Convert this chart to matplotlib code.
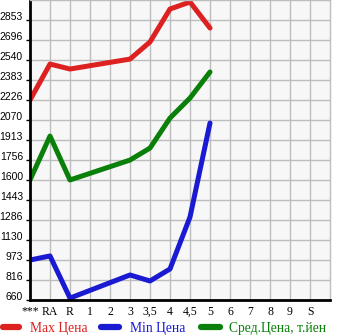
import matplotlib
matplotlib.use("Agg")
import matplotlib.pyplot as plt
import matplotlib.transforms as mtransforms
from matplotlib.lines import Line2D

# categories along the x axis
CATEGORIES = ["***", "RA", "R", "1", "2", "3", "3,5", "4", "4,5", "5",
              "6", "7", "8", "9", "S"]

# y tick labels (thousand yen)
Y_TICKS = [660, 816, 973, 1130, 1286, 1443, 1600, 1756, 1913, 2070,
           2226, 2383, 2540, 2696, 2853]

# series, only the categories that have data
SERIES_CATS = ["***", "RA", "R", "3", "3,5", "4", "4,5", "5"]
MAX_PRICE = [2226, 2508, 2469, 2547, 2681, 2939, 2994, 2790]
MIN_PRICE = [973, 1005, 675, 856, 809, 903, 1310, 2046]
AVG_PRICE = [1600, 1944, 1600, 1756, 1850, 2085, 2242, 2446]

LABELS = ["Max Цена", "Min Цена", "Сред.Цена, т.йен"]

RED = "#dd2020"
BLUE = "#1a1ad2"
GREEN = "#0a800a"
GRID = "#bdbdbd"

W, H = 345, 335


def main():
    fig = plt.figure(figsize=(W / 100, H / 100), dpi=100)
    ax = fig.add_axes([30 / W, 35 / H, 300 / W, 300 / H])
    ax.set_facecolor("#f7f7f7")

    xs = [CATEGORIES.index(c) for c in SERIES_CATS]
    lw = 3.6
    for vals, col in [(MAX_PRICE, RED), (MIN_PRICE, BLUE), (AVG_PRICE, GREEN)]:
        ax.plot(xs, vals, color=col, lw=lw, solid_capstyle="round",
                solid_joinstyle="round")

    step = (Y_TICKS[-1] - Y_TICKS[0]) / (len(Y_TICKS) - 1)
    ax.set_xlim(0, len(CATEGORIES))
    ax.set_ylim(Y_TICKS[0], Y_TICKS[0] + step * len(Y_TICKS))

    ax.set_xticks(range(len(CATEGORIES)))
    ax.set_xticklabels(CATEGORIES, family="Liberation Serif", fontsize=8.5)
    ax.set_yticks([Y_TICKS[0] + step * i for i in range(len(Y_TICKS))])
    ax.set_yticklabels([str(v) for v in Y_TICKS], family="Liberation Sans",
                       fontsize=7.5)
    ax.grid(True, color=GRID, lw=1.0)
    ax.set_axisbelow(True)
    ax.tick_params(axis="y", length=3, width=1, pad=2, color="black")
    ax.tick_params(axis="x", length=0, pad=4)

    # y labels sit a bit above their tick
    offset = mtransforms.ScaledTranslation(0, 3 / 72, fig.dpi_scale_trans)
    for lab in ax.get_yticklabels():
        lab.set_transform(lab.get_transform() + offset)

    for side in ["top", "right"]:
        ax.spines[side].set_color(GRID)
        ax.spines[side].set_linewidth(1.0)
    ax.spines["left"].set_linewidth(2)
    ax.spines["bottom"].set_linewidth(2)

    # legend row at the bottom, drawn by hand to match spacing
    legend_pos = [(3, 19, 30), (101, 119, 130), (201, 220, 229)]
    for label, col, (h0, h1, tx) in zip(LABELS, [RED, BLUE, GREEN], legend_pos):
        fig.add_artist(Line2D([h0 / W, h1 / W], [(H - 327) / H] * 2,
                              transform=fig.transFigure, color=col, lw=4.5,
                              solid_capstyle="round"))
        fig.text(tx / W, (H - 332) / H, label, color=col, ha="left",
                 va="baseline", family="Liberation Serif", fontsize=9.8)

    fig.savefig("out.png", dpi=100)


if __name__ == "__main__":
    main()
